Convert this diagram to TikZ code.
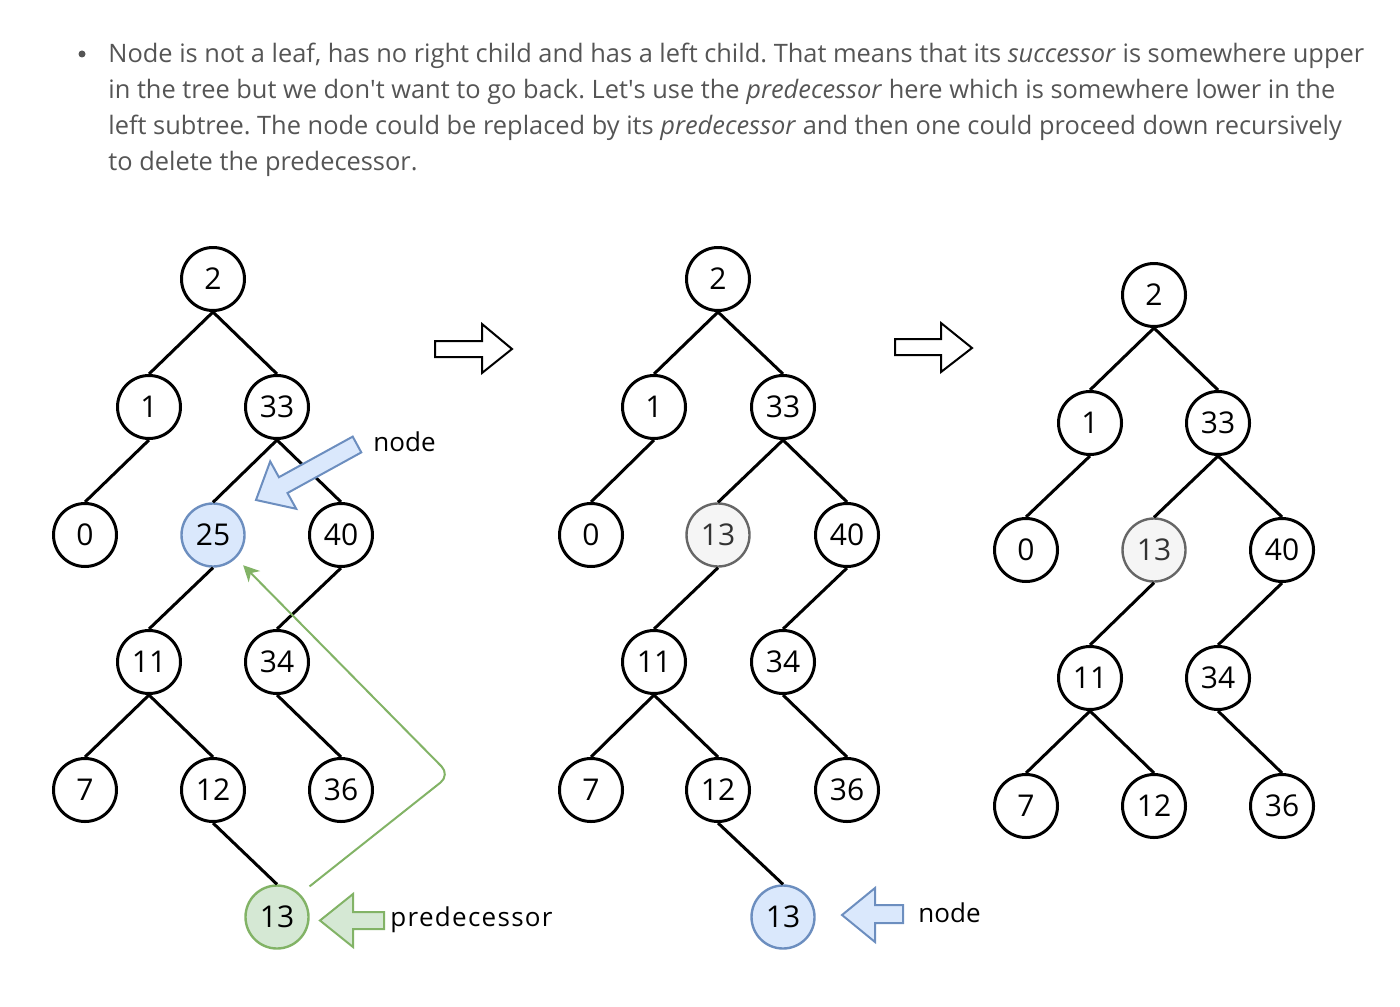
\documentclass[tikz,border=0pt]{standalone}
\usepackage{fontspec}
\setmainfont{Open Sans}
\newfontfamily\treefont{Open Sans}
\usetikzlibrary{arrows.meta}
\usetikzlibrary{positioning}
\definecolor{textgray}{HTML}{555555}
\definecolor{blueline}{HTML}{6C8EBF}
\definecolor{bluefill}{HTML}{DAE8FC}
\definecolor{greenline}{HTML}{82B366}
\definecolor{greenfill}{HTML}{D5E8D4}
\definecolor{grayline}{HTML}{666666}
\definecolor{grayfill}{HTML}{F5F5F5}
\definecolor{graytext}{HTML}{333333}
\frenchspacing

\begin{document}
\begin{tikzpicture}[
      x=0.5pt, y=-0.5pt,
      vertex/.style ={circle, draw=black, line width=1.5pt, fill=white, minimum size=31.5pt,
                      inner sep=0pt, font=\treefont\fontsize{15}{18}\selectfont},
      target/.style ={vertex, draw=blueline, line width=1.2pt, fill=bluefill},
      pred/.style   ={vertex, draw=greenline, line width=1.2pt, fill=greenfill},
      moved/.style  ={vertex, draw=grayline, line width=1.2pt, fill=grayfill, text=graytext},
      edge/.style   ={line width=1.5pt},
      pointer/.style={line width=1pt, line join=miter},
      tag/.style    ={font=\treefont\fontsize{13}{15}\selectfont, inner sep=0pt},
      para/.style   ={text=textgray, align=left, inner sep=0pt,
                      font=\fontsize{12.7}{18}\selectfont}
    ]
    \useasboundingbox (0,0) rectangle (1400,1006);

    % description
    \node [circle, fill=textgray, minimum size=3.5pt, inner sep=0pt] (dot) at (82,54) {};
    \node [para, anchor=base west] (desc) at (108,170)
      {Node is not a leaf, has no right child and has a left child. That means that its \textit{successor} is somewhere upper\\
       in the tree but we don\textquotesingle t want to go back. Let\textquotesingle s use the \textit{predecessor} here which is somewhere lower in the\\
       left subtree. The node could be replaced by its \textit{predecessor} and then one could proceed down recursively\\
       to delete the predecessor.};

    % first tree
    \begin{scope}[shift={(213,279)}]
      \node [vertex] (a2) at (0,0) {2};
      \node [vertex] (a1) at (-64,128) {1};
      \node [vertex] (a33) at (64,128) {33};
      \node [vertex] (a0) at (-128,256) {0};
      \node [target] (a25) at (0,256) {25};
      \node [vertex] (a40) at (128,256) {40};
      \node [vertex] (a11) at (-64,383) {11};
      \node [vertex] (a34) at (64,383) {34};
      \node [vertex] (a7) at (-128,511) {7};
      \node [vertex] (a12) at (0,511) {12};
      \node [vertex] (a36) at (128,511) {36};
      \node [pred] (a13) at (64,638) {13};
    \end{scope}
    \draw [edge] (a2.south) -- (a1.north) ;
    \draw [edge] (a2.south) -- (a33.north) ;
    \draw [edge] (a1.south) -- (a0.north) ;
    \draw [edge] (a33.south) -- (a25.north) ;
    \draw [edge] (a33.south) -- (a40.north) ;
    \draw [edge] (a25.south) -- (a11.north) ;
    \draw [edge] (a40.south) -- (a34.north) ;
    \draw [edge] (a11.south) -- (a7.north) ;
    \draw [edge] (a11.south) -- (a12.north) ;
    \draw [edge] (a34.south) -- (a36.north) ;
    \draw [edge] (a12.south) -- (a13.north) ;

    % pointers of the first tree
    \draw [pointer, draw=blueline, fill=bluefill] (352.7,436.6) -- (361.3,452.4) -- (287.5,493)
      -- (296.2,508.8) -- (256,500) -- (270.2,461.4) -- (278.9,477.2) -- cycle ;
    \node [tag, anchor=west] (nodetag1) at (373,442) {node};
    \draw [pointer, draw=greenline, fill=greenfill] (384,912) -- (384,929) -- (353,929)
      -- (353,947) -- (320,920.5) -- (353,894) -- (353,912) -- cycle ;
    \node [tag, anchor=west] (predtag) at (390,920) {\addfontfeature{LetterSpace=5}predecessor};
    \coordinate (bend) at (450,775);
    \draw [line width=1pt, draw=greenline, rounded corners=6pt, shorten <=6pt, shorten >=5pt,
           -{Stealth[length=8pt, width=8pt, inset=2.5pt]}] (a13.north east) -- (bend) -- (a25.south east) ;

    % step arrows
    \draw [pointer, fill=white] (435,341) -- (482,341) -- (482,324) -- (512,349)
      -- (482,373) -- (482,357) -- (435,357) -- cycle ;
    \draw [pointer, fill=white] (895,339) -- (941,339) -- (941,323) -- (972,348)
      -- (941,372) -- (941,355) -- (895,355) -- cycle ;

    % second tree
    \begin{scope}[shift={(718,279)}]
      \node [vertex] (b2) at (0,0) {2};
      \node [vertex] (b1) at (-64,128) {1};
      \node [vertex] (b33) at (65,128) {33};
      \node [vertex] (b0) at (-127,256) {0};
      \node [moved] (b13) at (0,256) {13};
      \node [vertex] (b40) at (129,256) {40};
      \node [vertex] (b11) at (-64,383) {11};
      \node [vertex] (b34) at (65,383) {34};
      \node [vertex] (b7) at (-127,511) {7};
      \node [vertex] (b12) at (0,511) {12};
      \node [vertex] (b36) at (129,511) {36};
      \node [target] (bdel) at (65,638) {13};
    \end{scope}
    \draw [edge] (b2.south) -- (b1.north) ;
    \draw [edge] (b2.south) -- (b33.north) ;
    \draw [edge] (b1.south) -- (b0.north) ;
    \draw [edge] (b33.south) -- (b13.north) ;
    \draw [edge] (b33.south) -- (b40.north) ;
    \draw [edge] (b13.south) -- (b11.north) ;
    \draw [edge] (b40.south) -- (b34.north) ;
    \draw [edge] (b11.south) -- (b7.north) ;
    \draw [edge] (b11.south) -- (b12.north) ;
    \draw [edge] (b34.south) -- (b36.north) ;
    \draw [edge] (b12.south) -- (bdel.north) ;

    % pointer of the second tree
    \draw [pointer, draw=blueline, fill=bluefill] (903,905) -- (903,923) -- (875,923)
      -- (875,942) -- (842,915) -- (875,888) -- (875,905) -- cycle ;
    \node [tag, anchor=west] (nodetag2) at (918,913) {node};

    % third tree
    \begin{scope}[shift={(1154,295)}]
      \node [vertex] (c2) at (0,0) {2};
      \node [vertex] (c1) at (-64,128) {1};
      \node [vertex] (c33) at (64,128) {33};
      \node [vertex] (c0) at (-128,255) {0};
      \node [moved] (c13) at (0,255) {13};
      \node [vertex] (c40) at (128,255) {40};
      \node [vertex] (c11) at (-64,383) {11};
      \node [vertex] (c34) at (64,383) {34};
      \node [vertex] (c7) at (-128,511) {7};
      \node [vertex] (c12) at (0,511) {12};
      \node [vertex] (c36) at (128,511) {36};
    \end{scope}
    \draw [edge] (c2.south) -- (c1.north) ;
    \draw [edge] (c2.south) -- (c33.north) ;
    \draw [edge] (c1.south) -- (c0.north) ;
    \draw [edge] (c33.south) -- (c13.north) ;
    \draw [edge] (c33.south) -- (c40.north) ;
    \draw [edge] (c13.south) -- (c11.north) ;
    \draw [edge] (c40.south) -- (c34.north) ;
    \draw [edge] (c11.south) -- (c7.north) ;
    \draw [edge] (c11.south) -- (c12.north) ;
    \draw [edge] (c34.south) -- (c36.north) ;
  \end{tikzpicture}
\end{document}
